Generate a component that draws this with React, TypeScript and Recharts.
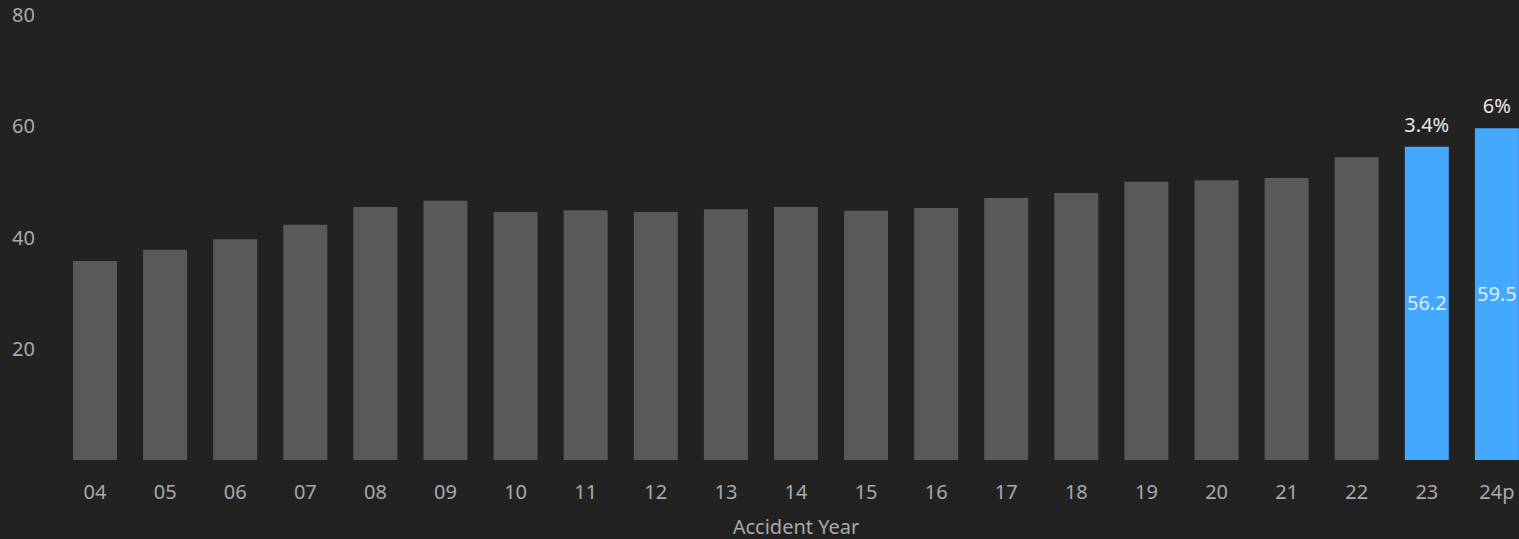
import React from 'react';
import { BarChart, Bar, XAxis, YAxis, Cell, LabelList } from 'recharts';

const years = ['04', '05', '06', '07', '08', '09', '10', '11', '12', '13', '14', '15', '16', '17', '18', '19', '20', '21', '22', '23', '24p'];
const severity = [35.7, 37.7, 39.6, 42.2, 45.4, 46.5, 44.5, 44.8, 44.5, 45.0, 45.4, 44.7, 45.2, 47.0, 47.9, 49.9, 50.2, 50.6, 54.3, 56.2, 59.5];
const highlighted = ['23', '24p'];
const growth: Record<string, string> = { '23': '3.4%', '24p': '6%' };
const yTicks = [20, 40, 60, 80];

const BG = '#222222';
const GREY_BAR = '#595959';
const BLUE_BAR = '#45a8ff';
const AXIS_TEXT = '#a9a9a9';
const FONT = '"Noto Sans", "Open Sans", sans-serif';

const data = years.map((year, i) => {
  const hot = highlighted.includes(year);
  return {
    year,
    value: severity[i],
    hot,
    inside: hot ? severity[i].toFixed(1) : null,
    growth: growth[year] ?? null,
  };
});

const YTick = (props: any) => {
  const { y, payload } = props;
  return (
    <text x={12} y={y} textAnchor="start" dominantBaseline="central" fill={AXIS_TEXT} fontSize={20} fontFamily={FONT}>
      {payload.value}
    </text>
  );
};

const XTick = (props: any) => {
  const { x, y, payload } = props;
  return (
    <text x={x} y={y + 23} textAnchor="middle" dominantBaseline="central" fill={AXIS_TEXT} fontSize={20} fontFamily={FONT}>
      {payload.value}
    </text>
  );
};

export default function App() {
  // pinned to the viewport corner so the body margin doesn't show
  return (
    <div style={{ position: 'fixed', top: 0, left: 0, width: 1519, height: 539, overflow: 'hidden', background: BG }}>
      <BarChart width={1532} height={539} data={data} margin={{ top: 14, right: 0, bottom: 0, left: 0 }}>
        <YAxis
          domain={[0, 80]}
          ticks={yTicks}
          width={60}
          axisLine={false}
          tickLine={false}
          tick={<YTick />}
        />
        <XAxis
          dataKey="year"
          height={79}
          axisLine={false}
          tickLine={false}
          interval={0}
          tick={<XTick />}
          label={{ value: 'Accident Year', position: 'insideBottom', offset: 5, fill: AXIS_TEXT, fontSize: 20, fontFamily: FONT }}
        />
        <Bar dataKey="value" barSize={44} isAnimationActive={false}>
          {data.map((d) => (
            <Cell key={d.year} fill={d.hot ? BLUE_BAR : GREY_BAR} />
          ))}
          <LabelList dataKey="inside" position="center" fill="#dcecff" fontSize={20} fontFamily={FONT} />
          <LabelList dataKey="growth" position="top" offset={15} fill="#e8e8e8" fontSize={20} fontFamily={FONT} />
        </Bar>
      </BarChart>
    </div>
  );
}
